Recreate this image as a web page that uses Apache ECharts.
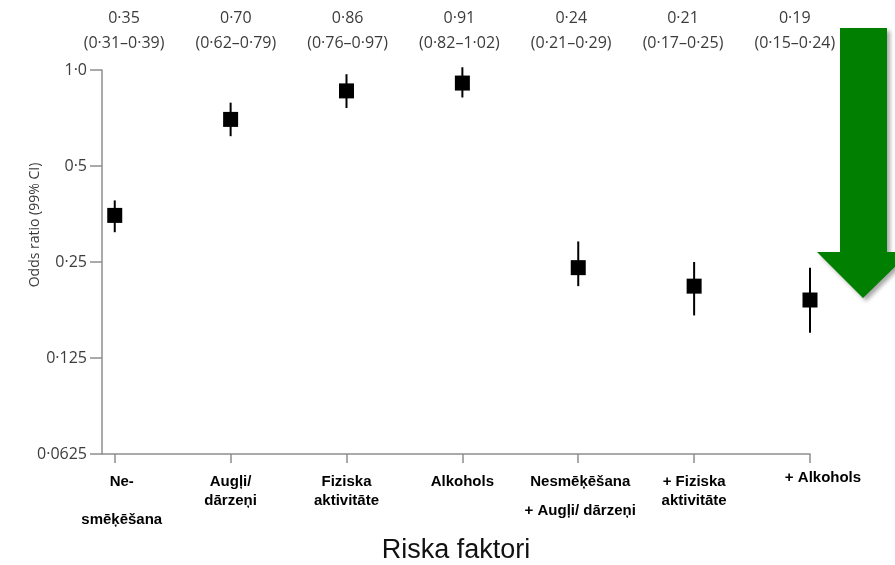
<!DOCTYPE html>
<html>
<head>
<meta charset="utf-8">
<script src="https://cdn.jsdelivr.net/npm/echarts@6.0.0/dist/echarts.min.js"></script>
<style>html,body{margin:0;padding:0;background:#fff}#c{width:895px;height:565px}</style>
</head>
<body>
<div id="c"></div>
<script>
// ---- data ----
var categories = ['Ne-\n\nsmēķēšana', 'Augļi/\ndārzeņi', 'Fiziska\naktivitāte', 'Alkohols', 'Nesmēķēšana\n+ Augļi/ dārzeņi', '+ Fiziska\naktivitāte', '+ Alkohols'];
var oddsRatio = [0.35, 0.70, 0.86, 0.91, 0.24, 0.21, 0.19];
var ciLow     = [0.31, 0.62, 0.76, 0.82, 0.21, 0.17, 0.15];
var ciHigh    = [0.39, 0.79, 0.97, 1.02, 0.29, 0.25, 0.24];
var yTickLabels = ['0·0625', '0·125', '0·25', '0·5', '1·0'];
var yTickValues = [0.0625, 0.125, 0.25, 0.5, 1.0];
var xTitle = 'Riska faktori';
var yTitle = 'Odds ratio (99% CI)';

function fmt(v) { return v.toFixed(2).replace('.', '·'); }
var idx = categories.map(function (c, i) { return i; });

var chart = echarts.init(document.getElementById('c'), null, { renderer: 'canvas' });
var axisGray = '#8e8e8e';
var textGray = '#3c3c3c';

var option = {
  backgroundColor: '#ffffff',
  animation: false,
  grid: { left: 102, right: 85, top: 70, bottom: 111, containLabel: false, outerBoundsMode: 'none' },
  xAxis: [{
    type: 'value', min: -0.11, max: 6,
    axisLine: { show: true, onZero: false, lineStyle: { color: axisGray, width: 1.5 } },
    axisTick: { show: true, length: 9, inside: false, customValues: idx, lineStyle: { color: axisGray, width: 1.5 } },
    splitLine: { show: false },
    axisLabel: {
      customValues: idx,
      margin: 18,
      fontFamily: 'Liberation Sans, Arial', fontWeight: 'bold', fontSize: 15, color: '#000',
      lineHeight: 19,
      formatter: function (v) {
        var i = Math.round(v);
        var t = categories[i];
        if (i === 0) return t.split('\n').map(function (s) { return '{p0|' + s + '}'; }).join('\n');
        if (i === 4) { var p = t.split('\n'); return '{n|' + p[0] + '}\n{m|' + p[1] + '}'; }
        if (i === 6) return '{p6|' + t + '}';
        return t;
      },
      rich: {
        p0: { fontFamily: 'Liberation Sans, Arial', fontWeight: 'bold', fontSize: 15, color: '#000', lineHeight: 19, padding: [0, 0, 0, 14] },
        n: { fontFamily: 'Liberation Sans, Arial', fontWeight: 'bold', fontSize: 15, color: '#000', lineHeight: 19, padding: [0, 0, 0, 4] },
        m: { fontFamily: 'Liberation Sans, Arial', fontWeight: 'bold', fontSize: 15, color: '#000', lineHeight: 39, padding: [0, 0, 0, 4] },
        p6: { fontFamily: 'Liberation Sans, Arial', fontWeight: 'bold', fontSize: 15, color: '#000', lineHeight: 19, padding: [0, 0, 8, 26] }
      }
    },
    name: xTitle, nameLocation: 'middle', nameGap: 83,
    nameTextStyle: { fontFamily: 'Liberation Sans, Arial', fontSize: 27, color: '#111' }
  }, {
    type: 'value', position: 'top', min: -0.197, max: 6.136,
    axisLine: { show: false }, axisTick: { show: false }, splitLine: { show: false },
    axisLabel: {
      customValues: idx, margin: 14,
      fontFamily: 'Open Sans', fontSize: 16, color: textGray, lineHeight: 25,
      formatter: function (v) {
        var i = Math.round(v);
        return fmt(oddsRatio[i]) + '\n(' + fmt(ciLow[i]) + '–' + fmt(ciHigh[i]) + ')';
      }
    }
  }],
  yAxis: {
    type: 'log', logBase: 2, min: 0.0625, max: 1,
    axisLine: { show: true, onZero: false, lineStyle: { color: axisGray, width: 1.5 } },
    axisTick: { show: true, length: 12, lineStyle: { color: axisGray, width: 1.5 } },
    minorTick: { show: false },
    splitLine: { show: false },
    axisLabel: {
      margin: 15, fontFamily: 'Open Sans', fontSize: 16, color: textGray,
      formatter: function (v) {
        var k = Math.round(Math.log(v) / Math.LN2);
        for (var j = 0; j < yTickValues.length; j++) {
          if (Math.round(Math.log(yTickValues[j]) / Math.LN2) === k) return yTickLabels[j];
        }
        return '';
      }
    },
    name: yTitle, nameLocation: 'middle', nameGap: 60, nameRotate: 90, nameMoveOverlap: false,
    nameTextStyle: { fontFamily: 'Open Sans', fontSize: 14, color: textGray, padding: [0, 0, 0, 74] }
  },
  series: [{
    type: 'custom',
    xAxisIndex: 0,
    data: idx.map(function (i) { return [i, ciLow[i], ciHigh[i]]; }),
    renderItem: function (params, api) {
      var a = api.coord([api.value(0), api.value(1)]);
      var b = api.coord([api.value(0), api.value(2)]);
      return { type: 'line', shape: { x1: a[0], y1: a[1], x2: b[0], y2: b[1] }, style: { stroke: '#000', lineWidth: 2 } };
    },
    z: 2
  }, {
    type: 'scatter',
    xAxisIndex: 0,
    symbol: 'rect', symbolSize: [15, 15],
    itemStyle: { color: '#000', opacity: 1 },
    data: idx.map(function (i) { return [i, oddsRatio[i]]; }),
    z: 3
  }],
  graphic: [{
    type: 'polygon',
    shape: { points: [[840, 28], [887, 28], [887, 252], [910, 252], [863, 298], [817, 252], [840, 252]] },
    style: { fill: '#007f00', shadowColor: 'rgba(0,0,0,0.35)', shadowBlur: 4, shadowOffsetX: 3, shadowOffsetY: 3 },
    z: 10
  }]
};
chart.setOption(option);
</script>
</body>
</html>
